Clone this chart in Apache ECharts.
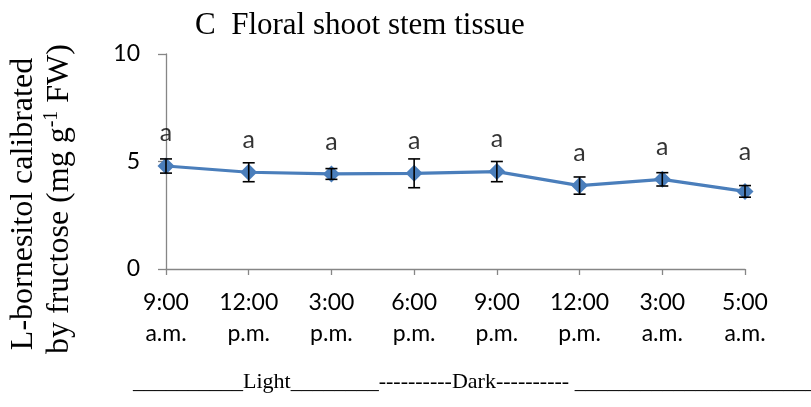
<!DOCTYPE html>
<html>
<head>
<meta charset="utf-8">
<script src="https://cdn.jsdelivr.net/npm/echarts@6/dist/echarts.min.js"></script>
<style>html,body{margin:0;padding:0;background:#fff;}#c{width:811px;height:407px;}</style>
</head>
<body>
<div id="c"></div>
<script>
var categories = ['9:00\na.m.', '12:00\np.m.', '3:00\np.m.', '6:00\np.m.', '9:00\np.m.', '12:00\np.m.', '3:00\na.m.', '5:00\na.m.'];
var means = [4.79, 4.50, 4.42, 4.45, 4.53, 3.88, 4.17, 3.61];
var errors = [0.33, 0.44, 0.25, 0.67, 0.47, 0.40, 0.31, 0.27];
var letters = ['a', 'a', 'a', 'a', 'a', 'a', 'a', 'a'];
var letterY = [6.33, 6.00, 5.90, 5.95, 6.05, 5.40, 5.67, 5.44];
var yTicks = [0, 5, 10];

var chart = echarts.init(document.getElementById('c'), null, {renderer: 'canvas'});
var tickFont = 'Lato, "Open Sans", sans-serif';
var serif = '"Liberation Serif", "Times New Roman", serif';

var option = {
  animation: false,
  backgroundColor: '#ffffff',
  grid: {left: 166, right: 66, top: 54, bottom: 138, containLabel: false},
  xAxis: {
    type: 'category',
    data: categories,
    boundaryGap: false,
    axisLine: {lineStyle: {color: '#868686', width: 1.3}},
    axisTick: {show: true, alignWithLabel: true, length: 6, lineStyle: {color: '#868686', width: 1.3}},
    axisLabel: {color: '#000', fontFamily: tickFont, fontSize: 23, lineHeight: 31, margin: 18, interval: 0},
    splitLine: {show: false}
  },
  yAxis: {
    type: 'value',
    min: yTicks[0],
    max: yTicks[yTicks.length - 1],
    interval: 5,
    axisLine: {show: true, lineStyle: {color: '#868686', width: 1.3}},
    axisTick: {show: true, length: 8, lineStyle: {color: '#868686', width: 1.3}},
    axisLabel: {color: '#000', fontFamily: tickFont, fontSize: 23, margin: 26},
    splitLine: {show: false}
  },
  graphic: [
    {type: 'text', left: 195, top: 10, style: {text: 'C  Floral shoot stem tissue', font: '31px ' + serif, fill: '#000'}},
    {type: 'text', x: 24, y: 204, rotation: Math.PI / 2,
      style: {text: 'L-bornesitol calibrated', font: '32px ' + serif, fill: '#000', align: 'center', verticalAlign: 'middle'}},
    {type: 'text', x: 60, y: 199, rotation: Math.PI / 2,
      style: {
        text: '{n|by fructose (mg g}{s|-1}{n| FW)}',
        align: 'center', verticalAlign: 'middle', fill: '#000',
        rich: {
          n: {fontFamily: serif, fontSize: 32, fill: '#000', lineHeight: 36},
          s: {fontFamily: serif, fontSize: 20, fill: '#000', verticalAlign: 'top', lineHeight: 36}
        }
      }},
    {type: 'text', left: 133, top: 371,
      style: {text: '__________Light________----------Dark---------- ______________________', font: '22px ' + serif, fill: '#000'}}
  ],
  series: [
    {
      type: 'line',
      data: means,
      symbol: 'diamond',
      symbolSize: [17, 17],
      lineStyle: {color: '#4a7ebb', width: 3.2},
      itemStyle: {color: '#4a7ebb'},
      z: 2
    },
    {
      type: 'custom',
      z: 3,
      clip: false,
      data: means.map(function (m, i) { return [i, m - errors[i], m + errors[i]]; }),
      renderItem: function (params, api) {
        var x = api.value(0);
        var lo = api.coord([x, api.value(1)]);
        var hi = api.coord([x, api.value(2)]);
        var w = 6;
        var st = {stroke: '#000', lineWidth: 1.6};
        return {
          type: 'group',
          children: [
            {type: 'line', shape: {x1: lo[0], y1: lo[1], x2: hi[0], y2: hi[1]}, style: st},
            {type: 'line', shape: {x1: lo[0] - w, y1: lo[1], x2: lo[0] + w, y2: lo[1]}, style: st},
            {type: 'line', shape: {x1: hi[0] - w, y1: hi[1], x2: hi[0] + w, y2: hi[1]}, style: st}
          ]
        };
      }
    },
    {
      type: 'scatter',
      z: 4,
      symbolSize: 0,
      silent: true,
      data: letterY.map(function (v, i) { return [i, v]; }),
      label: {
        show: true, position: 'inside',
        formatter: function (p) { return letters[p.dataIndex]; },
        color: '#000', fontFamily: tickFont, fontSize: 25
      }
    }
  ]
};
chart.setOption(option);
</script>
</body>
</html>
